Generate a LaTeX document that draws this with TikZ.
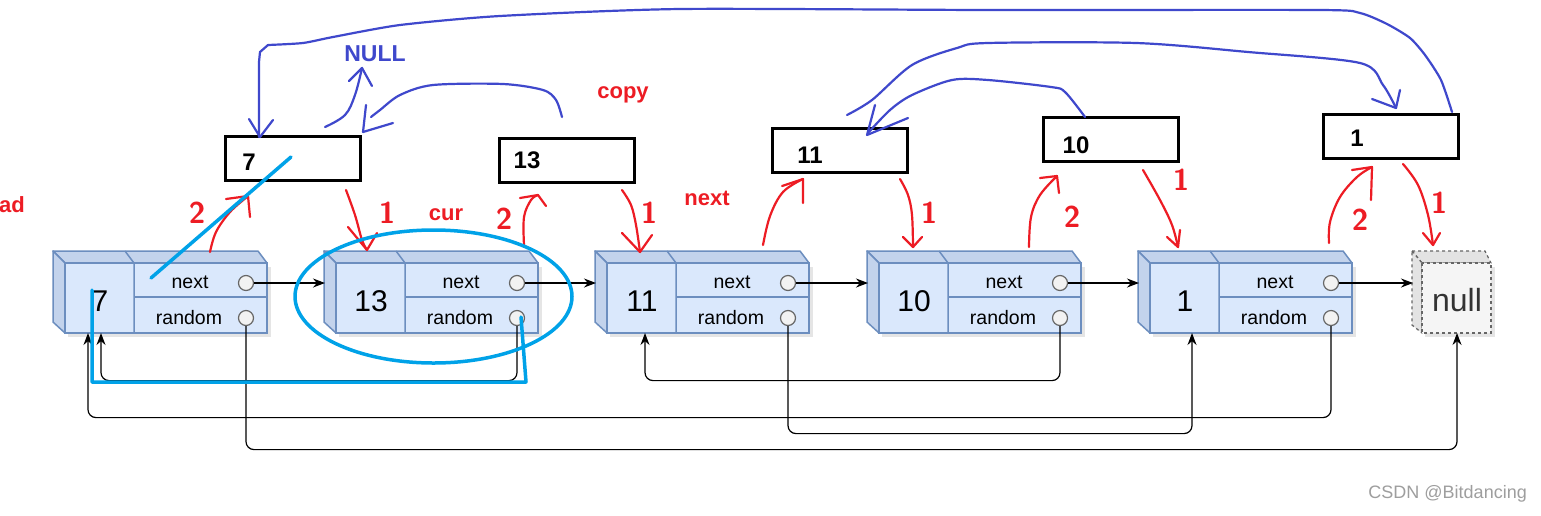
\documentclass[tikz,border=0pt]{standalone}
\usepackage{fontspec}
\setmainfont{Liberation Sans}
\usetikzlibrary{arrows.meta}
\definecolor{nfront}{HTML}{DAE8FC}
\definecolor{nside}{HTML}{C3D3EC}
\definecolor{nedge}{HTML}{6C8EBF}
\definecolor{portfill}{HTML}{F2F2F2}
\definecolor{portedge}{HTML}{666666}
\definecolor{nullfront}{HTML}{F5F5F5}
\definecolor{nullside}{HTML}{E3E3E3}
\definecolor{penred}{HTML}{ED1C24}
\definecolor{penblue}{HTML}{3F48CC}
\definecolor{pencyan}{HTML}{00A2E8}
\tikzset{
 nodefront/.style={fill=nfront, draw=nedge, line width=1.5pt},
 nodeside/.style={fill=nside, draw=nedge, line width=1.5pt, line join=round},
 nodeshadow/.style={fill=black, opacity=0.10},
 port/.style={circle, draw=portedge, fill=portfill, line width=1.2pt, minimum size=15pt, inner sep=0pt},
 fieldtext/.style={font=\fontsize{19.5}{22}\selectfont, inner sep=0pt},
 valtext/.style={font=\fontsize{30}{34}\selectfont, inner sep=0pt},
 conn/.style={draw=black, line width=1.2pt, -{Stealth[length=12pt,width=9pt]}},
 copybox/.style={draw=black, line width=3pt, minimum width=135pt, minimum height=44pt, inner sep=0pt},
 copytext/.style={font=\bfseries\fontsize{24}{27}\selectfont, inner sep=0pt},
 redlabel/.style={text=penred, font=\bfseries\fontsize{22}{26}\selectfont, inner sep=0pt, anchor=base},
 redpen/.style={draw=penred, line width=2.2pt, line cap=round, line join=round},
 bluepen/.style={draw=penblue, line width=2.2pt, line cap=round, line join=round},
 cyanpen/.style={draw=pencyan, line width=3.5pt, line cap=round, line join=round},
 handnum/.style={text=penred, font=\sffamily\bfseries\fontsize{30}{34}\selectfont, inner sep=0pt},
}
% #1 name, #2 x of back-left corner, #3 value
\newcommand{\listnode}[3]{%
 \begin{scope}[shift={(#2,0)}]
  \fill[nodeshadow] (15,267) rectangle (218,337);
  \filldraw[nodeside] (0,251) -- (205,251) -- (214,263) -- (12,263) -- cycle;
  \filldraw[nodeside] (0,251) -- (12,263) -- (12,333) -- (0,322) -- cycle;
  \filldraw[nodefront] (12,263) rectangle (214,333);
  \draw[draw=nedge, line width=1.5pt] (72,251) -- (81,263) -- (81,333);
  \draw[draw=nedge, line width=2.2pt] (81,297) -- (214,297);
  \node[valtext] (#1v) at (47,301) {#3};
  \node[fieldtext] (#1nt) at (137,282) {next};
  \node[fieldtext] (#1rt) at (136,318) {random};
  \node[port] (#1n) at (193,283) {};
  \node[port] (#1r) at (193,318) {};
  \coordinate (#1in) at (1,283);
 \end{scope}}
\begin{document}
\begin{tikzpicture}[x=1pt,y=-1pt]
\useasboundingbox (0,0) rectangle (1541,515);
\fill[white] (0,0) rectangle (1541,515);

% original list nodes
\listnode{a}{53}{7}
\listnode{b}{324}{13}
\listnode{c}{595}{11}
\listnode{d}{867}{10}
\listnode{e}{1138}{1}

% null node
\fill[nodeshadow] (1425,267) rectangle (1495,337);
\filldraw[fill=nullside, draw=portedge, dashed, line width=1.3pt, line join=round] (1412,251) -- (1485,251) -- (1491,263) -- (1422,263) -- cycle;
\filldraw[fill=nullside, draw=portedge, dashed, line width=1.3pt, line join=round] (1412,251) -- (1422,263) -- (1422,333) -- (1412,325) -- cycle;
\filldraw[fill=nullfront, draw=portedge, dashed, line width=1.3pt] (1422,263) rectangle (1491,333);
\node[font=\fontsize{32}{36}\selectfont, text=black!80, inner sep=0pt] (nul) at (1457,300) {null};
\coordinate (nulin) at (1413,283);

% target points on node bottoms
\coordinate (ara) at (101,333);
\coordinate (arb) at (88,333);
\coordinate (cra) at (645,333);
\coordinate (era) at (1192,333);
\coordinate (nulra) at (1457,333);

% next pointers
\draw[conn] (an.east) -- (bin);
\draw[conn] (bn.east) -- (cin);
\draw[conn] (cn.east) -- (din);
\draw[conn] (dn.east) -- (ein);
\draw[conn] (en.east) -- (nulin);

% random pointers
\draw[conn, rounded corners=8pt] (br.south) -- ++(0,54.5) -| (ara);
\draw[conn, rounded corners=8pt] (dr.south) -- ++(0,54.5) -| (cra);
\draw[conn, rounded corners=8pt] (er.south) -- ++(0,91.5) -| (arb);
\draw[conn, rounded corners=8pt] (cr.south) -- ++(0,107.5) -| (era);
\draw[conn, rounded corners=8pt] (ar.south) -- ++(0,123.5) -| (nulra);

% copy boxes
\node[copybox] (c7) at (293,158.5) {};
\node[copybox] (c13) at (567,160) {};
\node[copybox] (c11) at (840,150.5) {};
\node[copybox] (c10) at (1110.5,139.5) {};
\node[copybox] (c1) at (1391,136.5) {};
\node[copytext] (t7) at (249,162) {7};
\node[copytext] (t13) at (527,160) {13};
\node[copytext] (t11) at (810,155) {11};
\node[copytext] (t10) at (1076,145) {10};
\node[copytext] (t1) at (1357,138) {1};

% red labels
\node[redlabel, anchor=base west] (lhead) at (-1,212) {ad};
\node[redlabel] (lcopy) at (623,98) {copy};
\node[redlabel] (lcur) at (446,220) {cur};
\node[redlabel] (lnext) at (707,205) {next};
\node[font=\bfseries\fontsize{23}{26}\selectfont, text=penblue, inner sep=0pt, anchor=base] (lnull) at (375,61) {NULL};

% red hand-drawn arrows
\draw[redpen] plot[smooth, tension=0.6] coordinates {(210,252) (216,232) (230,212) (247,197)};
\draw[redpen] (226,199) -- (248,196) -- (250,217);
\draw[redpen] plot[smooth, tension=0.6] coordinates {(346,190) (355,215) (362,240) (367,250)};
\draw[redpen] (348,227) -- (367,250) -- (377,233);
\draw[redpen] plot[smooth, tension=0.6] coordinates {(524,245) (524,217) (531,200) (538,195)};
\draw[redpen] (520,198) -- (538,195) -- (546,206);
\draw[redpen] plot[smooth, tension=0.6] coordinates {(622,190) (631,205) (636,225) (640,252)};
\draw[redpen] (622,233) -- (640,252) -- (652,235);
\draw[redpen] plot[smooth, tension=0.6] coordinates {(763,245) (770,216) (783,192) (803,179)};
\draw[redpen] (782,186) -- (803,179) -- (803,203);
\draw[redpen] plot[smooth, tension=0.6] coordinates {(900,179) (908,195) (912,215) (913,247)};
\draw[redpen] (903,237) -- (913,247) -- (922,237);
\draw[redpen] plot[smooth, tension=0.6] coordinates {(1029,247) (1031,217) (1040,195) (1057,176)};
\draw[redpen] (1040,178) -- (1057,176) -- (1059,193);
\draw[redpen] plot[smooth, tension=0.6] coordinates {(1143,170) (1160,200) (1172,225) (1178,247)};
\draw[redpen] (1167,237) -- (1178,247) -- (1180,230);
\draw[redpen] plot[smooth, tension=0.6] coordinates {(1329,243) (1330,222) (1340,197) (1357,177) (1372,167)};
\draw[redpen] (1352,170) -- (1372,167) -- (1371,200);
\draw[redpen] plot[smooth, tension=0.6] coordinates {(1403,164) (1418,185) (1428,215) (1433,245)};
\draw[redpen] (1423,233) -- (1433,245) -- (1440,233);

% hand-written step numbers
\node[handnum] (s1) at (197,213) {2};
\node[handnum] (s2) at (387,213) {1};
\node[handnum] (s3) at (504,219) {2};
\node[handnum] (s4) at (649,213) {1};
\node[handnum] (s5) at (929,213) {1};
\node[handnum] (s6) at (1072,217) {2};
\node[handnum] (s7) at (1181,180) {1};
\node[handnum] (s8) at (1360,220) {2};
\node[handnum] (s9) at (1439,203) {1};

% blue hand-drawn arrows
\draw[bluepen] plot[smooth, tension=0.4] coordinates {(1452,112) (1441,80) (1425,55) (1410,38) (1387,24) (1360,13) (1320,10) (988,10) (680,9) (500,16) (400,25) (333,37) (303,43) (268,45)};
\draw[bluepen] (268,45) -- (260,52) -- (259,62) -- (259,137);
\draw[bluepen] (249,119) -- (260,137) -- (273,120);
\draw[bluepen] plot[smooth, tension=0.6] coordinates {(325,127) (345,115) (355,95) (362,68)};
\draw[bluepen] (349,81) -- (362,68) -- (372,86);
\draw[bluepen] plot[smooth, tension=0.5] coordinates {(562,117) (556,100) (543,90) (503,84) (433,85) (400,95) (380,110) (371,117)};
\draw[bluepen] (366,105) -- (363,132) -- (393,123);
\draw[bluepen] plot[smooth, tension=0.5] coordinates {(1085,117) (1065,92) (1051,87) (988,80) (952,80) (912,95) (890,110) (868,133)};
\draw[bluepen] (875,105) -- (867,135) -- (908,118);
\draw[bluepen] plot[smooth, tension=0.5] coordinates {(847,115) (872,100) (912,65) (957,48) (988,43) (1136,43) (1248,52) (1360,63) (1383,85) (1396,108)};
\draw[bluepen] (1372,99) -- (1396,108) -- (1400,90);

% cyan marks
\draw[cyanpen] (151,278) -- (291,157);
\draw[cyanpen] (433.5,296.5) ellipse [x radius=138.5, y radius=66.5];
\draw[cyanpen] (92,290) -- (92,382) -- (526,382) -- (521,317);

% watermark
\node[font=\fontsize{18}{20}\selectfont, text=black!38, inner sep=0pt, anchor=east] (wm) at (1527,494) {CSDN @Bitdancing};
\end{tikzpicture}
\end{document}
